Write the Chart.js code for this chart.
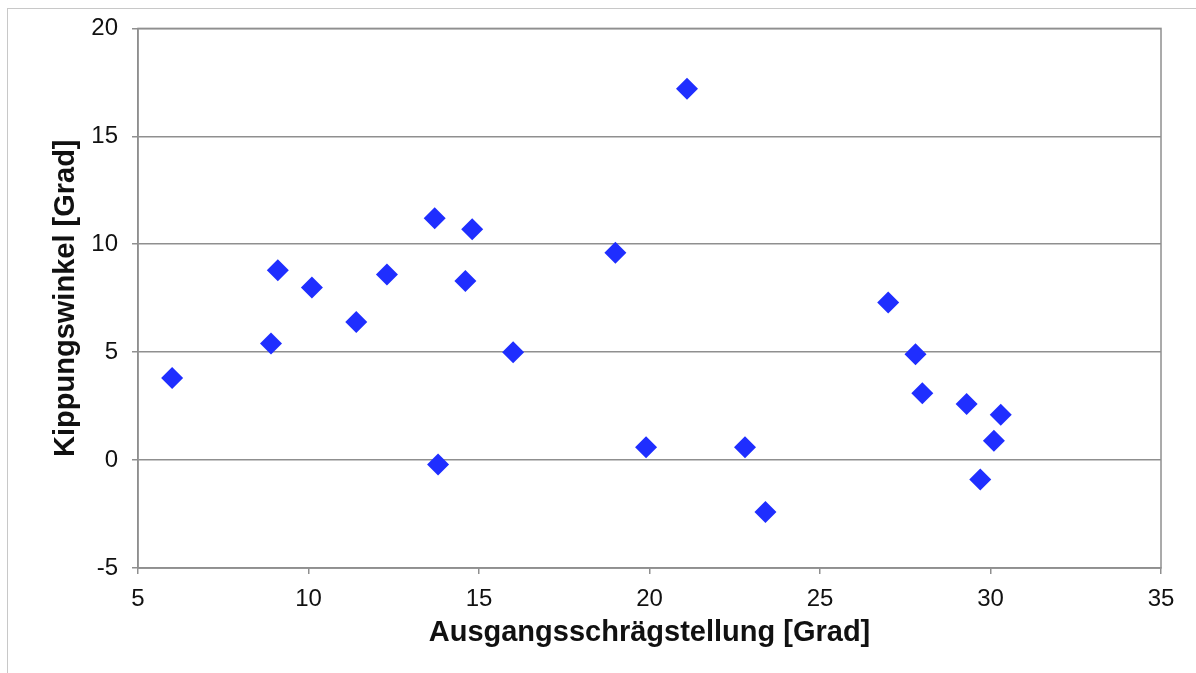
<!DOCTYPE html>
<html>
<head>
<meta charset="utf-8">
<script src="https://cdn.jsdelivr.net/npm/chart.js@4.4.1/dist/chart.umd.min.js"></script>
<style>
  html, body { margin: 0; padding: 0; background: #fff; }
  #wrap { position: relative; width: 1196px; height: 673px; overflow: hidden; }
  #frame { position: absolute; left: 7px; top: 8px; width: 1300px; height: 800px; border-left: 1px solid #c8c8c8; border-top: 1px solid #c8c8c8; }
  canvas { position: absolute; left: 0; top: 0; }
</style>
</head>
<body>
<div id="wrap">
  <div id="frame"></div>
  <canvas id="c" width="1196" height="673"></canvas>
</div>
<script>
// Ausgangsschrägstellung (x) vs. Kippungswinkel (y), both in degrees
const schraegstellung = [6.0, 8.9, 9.1, 10.1, 11.4, 12.3, 13.7, 13.8, 14.6, 14.8, 16.0, 19.0, 19.9, 21.1, 22.8, 23.4, 27.0, 27.8, 28.0, 29.3, 29.7, 30.1, 30.3];
const kippung        = [3.8, 5.4, 8.8, 8.0, 6.4, 8.6, 11.2, -0.2, 8.3, 10.7, 5.0, 9.6, 0.6, 17.2, 0.6, -2.4, 7.3, 4.9, 3.1, 2.6, -0.9, 0.9, 2.1];
const xTicks = [5, 10, 15, 20, 25, 30, 35];
const yTicks = [-5, 0, 5, 10, 15, 20];

const points = schraegstellung.map((x, i) => ({ x: x, y: kippung[i] }));

const GRID = '#8f8f8f';
const FONT = 'Liberation Sans, Arial, sans-serif';

// Excel-style plot frame around the chart area
const plotFrame = {
  id: 'plotFrame',
  beforeDatasetsDraw(chart) {
    const a = chart.chartArea, ctx = chart.ctx;
    ctx.save();
    ctx.strokeStyle = GRID;
    ctx.lineWidth = 1.5;
    ctx.strokeRect(a.left, a.top, a.right - a.left, a.bottom - a.top);
    ctx.restore();
  }
};

new Chart(document.getElementById('c'), {
  type: 'scatter',
  data: {
    datasets: [{
      data: points,
      pointStyle: 'rectRot',
      pointRadius: 11,
      pointHoverRadius: 11,
      backgroundColor: '#1f2eff',
      borderColor: '#1f2eff',
      borderWidth: 0
    }]
  },
  options: {
    responsive: false,
    animation: false,
    layout: { padding: { left: 0, top: 28, right: 35, bottom: 0 } },
    plugins: { legend: { display: false }, tooltip: { enabled: false } },
    scales: {
      x: {
        type: 'linear',
        min: 5, max: 35,
        afterBuildTicks: s => { s.ticks = xTicks.map(v => ({ value: v })); },
        afterFit: s => { s.height = 105; },
        grid: { drawOnChartArea: false, drawTicks: true, tickLength: 6, color: GRID, lineWidth: 1.5 },
        border: { display: true, color: GRID, width: 1.5 },
        ticks: { color: '#111', font: { family: FONT, size: 24 }, padding: 11, maxRotation: 0 },
        title: { display: true, text: 'Ausgangsschrägstellung [Grad]', color: '#111',
                 font: { family: FONT, size: 29, weight: 'bold' }, padding: { top: 0, bottom: 23 } }
      },
      y: {
        type: 'linear',
        min: -5, max: 20,
        afterBuildTicks: s => { s.ticks = yTicks.map(v => ({ value: v })); },
        afterFit: s => { s.width = 138; },
        grid: { drawOnChartArea: true, drawTicks: true, tickLength: 6, color: GRID, lineWidth: 1.5 },
        border: { display: true, color: GRID, width: 1.5 },
        ticks: { color: '#111', font: { family: FONT, size: 24 }, padding: 14 },
        title: { display: true, text: 'Kippungswinkel [Grad]', color: '#111',
                 font: { family: FONT, size: 29, weight: 'bold' }, padding: { top: 49, bottom: 0 } }
      }
    }
  },
  plugins: [plotFrame]
});
</script>
</body>
</html>
